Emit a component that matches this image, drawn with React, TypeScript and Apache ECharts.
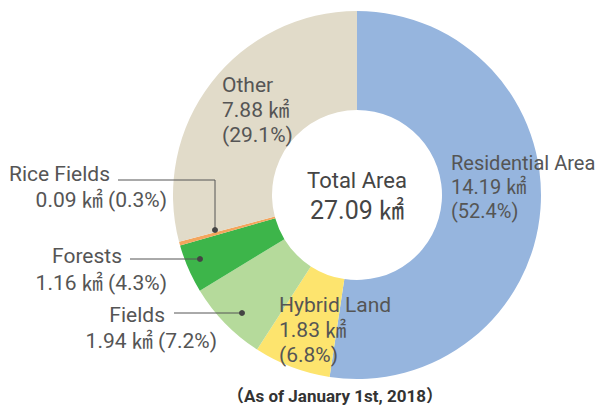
import React, { useEffect, useRef } from "react";
import * as echarts from "echarts";

const categories = ["Residential Area", "Hybrid Land", "Fields", "Forests", "Rice Fields", "Other"];
const areas = [14.19, 1.83, 1.94, 1.16, 0.09, 7.88];
const percents = [52.4, 6.8, 7.2, 4.3, 0.3, 29.1];
const centerTitle = "Total Area";
const unit = "㎢";
const footnote = "（As of January 1st, 2018）";

const colors = ["#96b5de", "#fde46e", "#b5da9b", "#3db54a", "#f4a55c", "#e1dbc9"];
const FONT = "Roboto, 'Noto Sans CJK JP', sans-serif";
const TEXT = "#555555";

// label style: "inside" = three stacked lines, left-aligned; "left" = name + one line, right-aligned
const labelKinds = ["inside", "inside", "left", "left", "left", "inside"];
const labelPos = [
  { x: 451, y: 151, lh: 24, fs: 20 },
  { x: 279, y: 292, lh: 25, fs: 21 },
  { x: 217, y: 302, lh: 26, fs: 21, pad: 52 },
  { x: 167, y: 242, lh: 27, fs: 21, pad: 45 },
  { x: 167, y: 161, lh: 26, fs: 21, pad: 57 },
  { x: 222, y: 72, lh: 25, fs: 21 },
];
const leaders = [
  { pts: [[174, 313], [242, 313]], dot: [242, 313] },
  { pts: [[130, 259], [200, 259]], dot: [200, 259] },
  { pts: [[118, 180], [215, 180], [215, 230]], dot: [215, 230] },
];

export default function App() {
  const ref = useRef<HTMLDivElement>(null);
  useEffect(() => {
    if (!ref.current) return;
    const chart = echarts.init(ref.current, null, { renderer: "svg" });
    const total = areas.reduce((a, b) => a + b, 0);

    const data = categories.map((name, i) => {
      const p = labelPos[i];
      const kind = labelKinds[i];
      const align = kind === "left" ? "right" : "left";
      const base = { fontSize: p.fs, lineHeight: p.lh, color: TEXT, fontFamily: FONT, align };
      const formatter =
        kind === "left"
          ? `{n|${name}}\n{v|${areas[i].toFixed(2)} ${unit} (${percents[i].toFixed(1)}%)}`
          : `{v|${name}}\n{v|${areas[i].toFixed(2)} ${unit}}\n{v|(${percents[i].toFixed(1)}%)}`;
      return {
        name,
        value: areas[i],
        itemStyle: { color: colors[i] },
        label: {
          show: true,
          formatter,
          rich: {
            n: { ...base, padding: [0, p.pad || 0, 0, 0] },
            v: { ...base },
          },
        },
      };
    });

    const g: any[] = [
      {
        type: "text",
        x: 357,
        y: 180,
        style: { text: centerTitle, align: "center", verticalAlign: "middle", fontSize: 22, fontFamily: FONT, fill: "#454545" },
      },
      {
        type: "text",
        x: 357,
        y: 210,
        style: { text: `${total.toFixed(2)} ${unit}`, align: "center", verticalAlign: "middle", fontSize: 25, fontFamily: FONT, fill: "#454545" },
      },
      {
        type: "text",
        x: 335,
        y: 396,
        style: { text: footnote, align: "center", verticalAlign: "middle", fontSize: 17, fontWeight: "bold", fontFamily: FONT, fill: "#333" },
      },
    ];
    leaders.forEach((l) => {
      g.push({ type: "polyline", shape: { points: l.pts }, style: { stroke: "#555", lineWidth: 1, fill: null }, z: 10 });
      g.push({ type: "circle", shape: { cx: l.dot[0], cy: l.dot[1], r: 3 }, style: { fill: "#444" }, z: 10 });
    });

    chart.setOption({
      animation: false,
      backgroundColor: "#fff",
      series: [
        {
          type: "pie",
          center: [357, 195],
          radius: [85, 184],
          startAngle: 90,
          clockwise: true,
          avoidLabelOverlap: false,
          label: { show: true, position: "outside" },
          labelLine: { show: false },
          emphasis: { disabled: true },
          labelLayout: (params: any) => {
            const p = labelPos[params.dataIndex];
            return { x: p.x, y: p.y, align: labelKinds[params.dataIndex] === "left" ? "right" : "left", verticalAlign: "top" };
          },
          data,
        },
      ],
      graphic: g,
    });
    return () => chart.dispose();
  }, []);
  return <div ref={ref} style={{ position: "fixed", left: 0, top: 0, width: 611, height: 407, background: "#fff" }} />;
}
